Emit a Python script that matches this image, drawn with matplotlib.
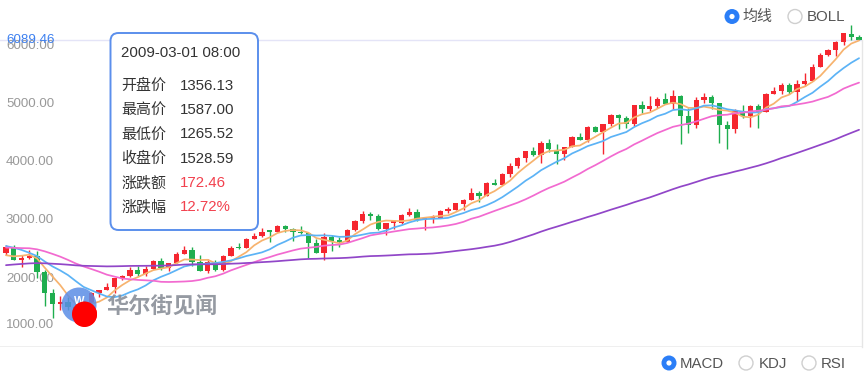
import matplotlib
matplotlib.use('Agg')
import matplotlib.pyplot as plt
import numpy as np
import pandas as pd
from matplotlib.patches import FancyBboxPatch, Circle
from matplotlib.transforms import ScaledTranslation, blended_transform_factory

plt.rcParams['font.family'] = ['Liberation Sans', 'Noto Sans CJK SC', 'DejaVu Sans']

# ---------------- data (monthly, 2008-05 .. 2017-07) ----------------
months = pd.period_range('2008-05', '2017-07', freq='M')

opens = [2412, 2523, 2293, 2325, 2367, 2091, 1720, 1535,
         1577, 1476, 1356.13, 1528, 1717, 1774, 1835, 1978, 2009, 2122, 2045, 2144,
         2269, 2147, 2238, 2397, 2461, 2257, 2109, 2254, 2114, 2368, 2507, 2498,
         2652, 2700, 2782, 2781, 2873, 2835, 2773, 2756, 2579, 2415, 2684, 2620,
         2605, 2813, 2966, 3091, 3046, 2827, 2935, 2939, 3066, 3116, 2977, 3010,
         3019, 3142, 3160, 3267, 3328, 3455, 3403, 3626, 3589, 3771, 3919, 4059,
         4176, 4103, 4308, 4198, 4114, 4242, 4408, 4369, 4580, 4493, 4630, 4791,
         4736, 4635, 4963, 4900, 4941, 5070, 4986, 5128, 4776, 4620, 5053, 5108,
         5007, 4613, 4557, 4869, 4775, 4948, 4842, 5162, 5213, 5312, 5189, 5323,
         5383, 5614, 5825, 5911, 6047, 6198, 6140]

highs = [2551, 2550, 2384, 2473, 2447, 2117, 1785, 1666,
         1663, 1571, 1587.00, 1747, 1784, 1892, 1983, 2028, 2167, 2190, 2192, 2295,
         2326, 2244, 2423, 2535, 2519, 2382, 2309, 2301, 2384, 2533, 2592, 2671,
         2767, 2840, 2797, 2888, 2888, 2840, 2887, 2766, 2653, 2753, 2730, 2698,
         2827, 2990, 3134, 3117, 3078, 2937, 2965, 3082, 3196, 3171, 3027, 3069,
         3154, 3213, 3270, 3338, 3532, 3480, 3640, 3694, 3799, 3967, 4069, 4177,
         4246, 4342, 4371, 4286, 4247, 4425, 4485, 4598, 4610, 4641, 4810, 4814,
         4777, 4967, 5042, 5119, 5111, 5164, 5231, 5142, 4917, 5096, 5176, 5143,
         5008, 4697, 4904, 4969, 4962, 4980, 5176, 5271, 5342, 5340, 5400, 5512,
         5669, 5860, 5928, 6075, 6204, 6341, 6180]

lows = [2382, 2292, 2167, 2310, 1983, 1493, 1295, 1426,
        1438, 1374, 1265.52, 1498, 1656, 1770, 1727, 1940, 2004, 2024, 2024, 2140,
        2125, 2100, 2236, 2393, 2185, 2102, 2061, 2100, 2110, 2360, 2478, 2493,
        2650, 2689, 2603, 2770, 2768, 2628, 2745, 2331, 2414, 2298, 2441, 2518,
        2600, 2790, 2930, 2987, 2803, 2726, 2836, 2911, 3044, 2961, 2810, 2935,
        3010, 3102, 3150, 3154, 3320, 3294, 3398, 3583, 3585, 3720, 3885, 3976,
        4087, 3968, 4150, 3946, 4015, 4237, 4364, 4331, 4493, 4116, 4600, 4547,
        4563, 4601, 4825, 4868, 4909, 4986, 4903, 4292, 4487, 4569, 4993, 4899,
        4313, 4209, 4478, 4749, 4594, 4574, 4840, 5154, 5153, 5151, 5034, 5300,
        5380, 5614, 5805, 5805, 6003, 6087, 6085]

closes = [2522.66, 2292.98, 2325.55, 2367.52, 2091.88, 1720.95, 1535.57, 1577.03,
          1476.42, 1377.84, 1528.59, 1717.30, 1774.33, 1835.04, 1978.50, 2009.06, 2122.42, 2045.11, 2144.60, 2269.15,
          2147.35, 2238.26, 2397.96, 2461.19, 2257.04, 2109.24, 2254.70, 2114.03, 2368.62, 2507.41, 2498.23, 2652.87,
          2700.08, 2782.27, 2781.07, 2873.54, 2835.30, 2773.52, 2756.38, 2579.46, 2415.40, 2684.41, 2620.34, 2605.15,
          2813.84, 2966.89, 3091.57, 3046.36, 2827.34, 2935.05, 2939.52, 3066.96, 3116.23, 2977.23, 3010.24, 3019.51,
          3142.13, 3160.19, 3267.52, 3328.79, 3455.91, 3403.25, 3626.37, 3589.87, 3771.48, 3919.71, 4059.89, 4176.59,
          4103.88, 4308.12, 4198.99, 4114.56, 4242.62, 4408.18, 4369.77, 4580.27, 4493.39, 4630.74, 4791.63, 4736.05,
          4635.24, 4963.53, 4900.88, 4941.42, 5070.03, 4986.87, 5128.28, 4776.51, 4620.16, 5053.75, 5108.67, 5007.41,
          4613.95, 4557.95, 4869.85, 4775.36, 4948.05, 4842.67, 5162.13, 5213.22, 5312.00, 5189.14, 5323.68, 5383.12,
          5614.79, 5825.44, 5911.74, 6047.61, 6198.52, 6140.42, 6089.46]

# closes before the visible window (2003-06 .. 2008-04), needed for the moving averages
pre_closes = [1622.80, 1735.02, 1810.45, 1786.94, 1932.21, 1960.26, 2003.37,
              2066.15, 2029.82, 1994.22, 1920.15, 1986.74, 2047.79, 1887.36, 1838.10, 1896.84, 1974.99, 2096.81, 2175.44,
              2062.41, 2051.72, 1999.23, 1921.65, 2068.22, 2056.96, 2184.83, 2152.09, 2151.69, 2120.30, 2232.82, 2205.32,
              2305.82, 2281.39, 2339.79, 2322.57, 2178.88, 2172.09, 2091.47, 2183.75, 2258.43, 2366.71, 2431.77, 2415.29,
              2463.93, 2416.15, 2421.64, 2525.09, 2604.52, 2603.23, 2546.27, 2596.36, 2701.50, 2859.12, 2660.96, 2652.28,
              2389.86, 2271.48, 2279.10, 2412.80]

ma_periods = [5, 10, 20, 60]
ma_colors = ['#f7b36e', '#5cb3f6', '#f26ad0', '#9146c8']

y_ticks = [1000, 2000, 3000, 4000, 5000, 6000]

tooltip_date = '2009-03-01 08:00'
tooltip_index = 10  # 2009-03

top_radios = ['均线', 'BOLL']
bottom_radios = ['MACD', 'KDJ', 'RSI']

# ---------------- figure ----------------
W, H = 865, 375
fig = plt.figure(figsize=(W / 100, H / 100), dpi=100)
fig.patch.set_facecolor('white')

spacing = 7.755
first_x = 6.0
ax_bottom_px, ax_top_px, ax_right_px = 347, 20, 862
ax = fig.add_axes([0, (H - ax_bottom_px) / H, ax_right_px / W, (ax_bottom_px - ax_top_px) / H])
ax.set_facecolor('none')

px_per_unit = 0.058
ylo = 6000 - (ax_bottom_px - 45) / px_per_unit
yhi = 6000 + (45 - ax_top_px) / px_per_unit
ax.set_ylim(ylo, yhi)
ax.set_xlim(-first_x / spacing, (ax_right_px - first_x) / spacing)

n = len(closes)
x = np.arange(n)
o = np.array(opens, float); h = np.array(highs, float)
l = np.array(lows, float); c = np.array(closes, float)
up = c >= o
red, green = '#f5262f', '#1fae4f'
cols = np.where(up, red, green)

ax.vlines(x, l, h, colors=cols, linewidth=1.0, zorder=3)
body_bottom = np.minimum(o, c)
body_h = np.maximum(np.abs(c - o), 1.5 / px_per_unit)
ax.bar(x, body_h, bottom=body_bottom, width=0.68, color=cols, linewidth=0, zorder=4)

# moving averages
all_close = pd.Series(pre_closes + closes)
for p, col in zip(ma_periods, ma_colors):
    ma = all_close.rolling(p).mean().to_numpy()[-n:]
    ax.plot(x, ma, color=col, linewidth=1.25, zorder=5, solid_capstyle='round')

# last price line & label
last = closes[-1]
ax.axhline(last, color='#e4e4f7', linewidth=1.0, zorder=1)
bt = blended_transform_factory(ax.transAxes, ax.transData)
ax.text(6 / ax_right_px, last, f'{last:.2f}', transform=bt, ha='left', va='center',
        color='#3d80f0', fontsize=9.6, zorder=2)

# bottom line
ax.axhline(ylo, color='#ececec', linewidth=1.2, zorder=1)
# right border line
ax.plot([1, 1], [0, (ax_bottom_px - 40) / (ax_bottom_px - ax_top_px)], transform=ax.transAxes,
        color='#e6e6e6', linewidth=1, clip_on=False)

for s in ax.spines.values():
    s.set_visible(False)
ax.set_xticks([])
ax.set_yticks(y_ticks)
ax.set_yticklabels([f'{v:.2f}' for v in y_ticks])
ax.tick_params(axis='y', length=0, pad=-4.3, labelsize=9.6, labelcolor='#999999')
for lab in ax.get_yticklabels():
    lab.set_horizontalalignment('left')
lab0 = ax.get_yticklabels()[0]
lab0.set_transform(lab0.get_transform() + ScaledTranslation(0, 0.12, fig.dpi_scale_trans))

# highlighted point
ax.plot([tooltip_index], [opens[tooltip_index]], 'o', color='#ff0000', markersize=18,
        markeredgewidth=0, zorder=8)

# ---------------- overlay in pixel coords ----------------
ov = fig.add_axes([0, 0, 1, 1], zorder=5)
ov.set_xlim(0, W); ov.set_ylim(H, 0); ov.axis('off')

# watermark logo
ov.add_patch(Circle((79, 305), 17.5, facecolor='#5b8de6', edgecolor='none', alpha=0.85, zorder=1))
ov.text(79, 301, 'W', ha='center', va='center', color='white', fontsize=8, fontweight='bold', zorder=2)
ov.text(106, 306, '华尔街见闻', ha='left', va='center', fontsize=16, fontweight='bold',
        color='#8a8f98', alpha=0.9, family=['Noto Sans CJK SC'], zorder=1)
# red dot above logo
ov.add_patch(Circle((84.5, 314), 12.5, facecolor='#ff0000', edgecolor='none', zorder=3))

# tooltip
box = FancyBboxPatch((110.5, 33), 147.5, 197, boxstyle='round,pad=0,rounding_size=8',
                     facecolor='white', edgecolor='#5b8fec', linewidth=1.4, zorder=4)
ov.add_patch(box)
ov.text(121, 53, tooltip_date, ha='left', va='center', fontsize=10.8, color='#333333', zorder=5)
prev = opens[tooltip_index]
cl = closes[tooltip_index]
rows = [('开盘价', f'{opens[tooltip_index]:.2f}', '#333333'),
        ('最高价', f'{highs[tooltip_index]:.2f}', '#333333'),
        ('最低价', f'{lows[tooltip_index]:.2f}', '#333333'),
        ('收盘价', f'{cl:.2f}', '#333333'),
        ('涨跌额', f'{cl - prev:.2f}', '#f2414e'),
        ('涨跌幅', f'{(cl - prev) / prev * 100:.2f}%', '#f2414e')]
for i, (k, v, vc) in enumerate(rows):
    yy = 86 + i * 24.2
    ov.text(121, yy, k, ha='left', va='center', fontsize=10.8, color='#333333',
            family=['Noto Sans CJK SC'], zorder=5)
    ov.text(180, yy, v, ha='left', va='center', fontsize=10.8, color=vc, zorder=5)


def radio(cx, cy, label, selected, tx):
    if selected:
        ov.add_patch(Circle((cx, cy), 7.5, facecolor='#2b7ef7', edgecolor='none', zorder=4))
        ov.add_patch(Circle((cx, cy), 2.6, facecolor='white', edgecolor='none', zorder=5))
    else:
        ov.add_patch(Circle((cx, cy), 7.0, facecolor='white', edgecolor='#cfcfcf', linewidth=1.0, zorder=4))
    ov.text(tx, cy + 0.5, label, ha='left', va='center', fontsize=10.8, color='#555555', zorder=5)


radio(732, 16.5, top_radios[0], True, 742)
radio(795, 16.5, top_radios[1], False, 807)
radio(669, 363, bottom_radios[0], True, 680)
radio(746, 363, bottom_radios[1], False, 759)
radio(809, 363, bottom_radios[2], False, 821)

fig.savefig('out.png', dpi=100, facecolor='white')
